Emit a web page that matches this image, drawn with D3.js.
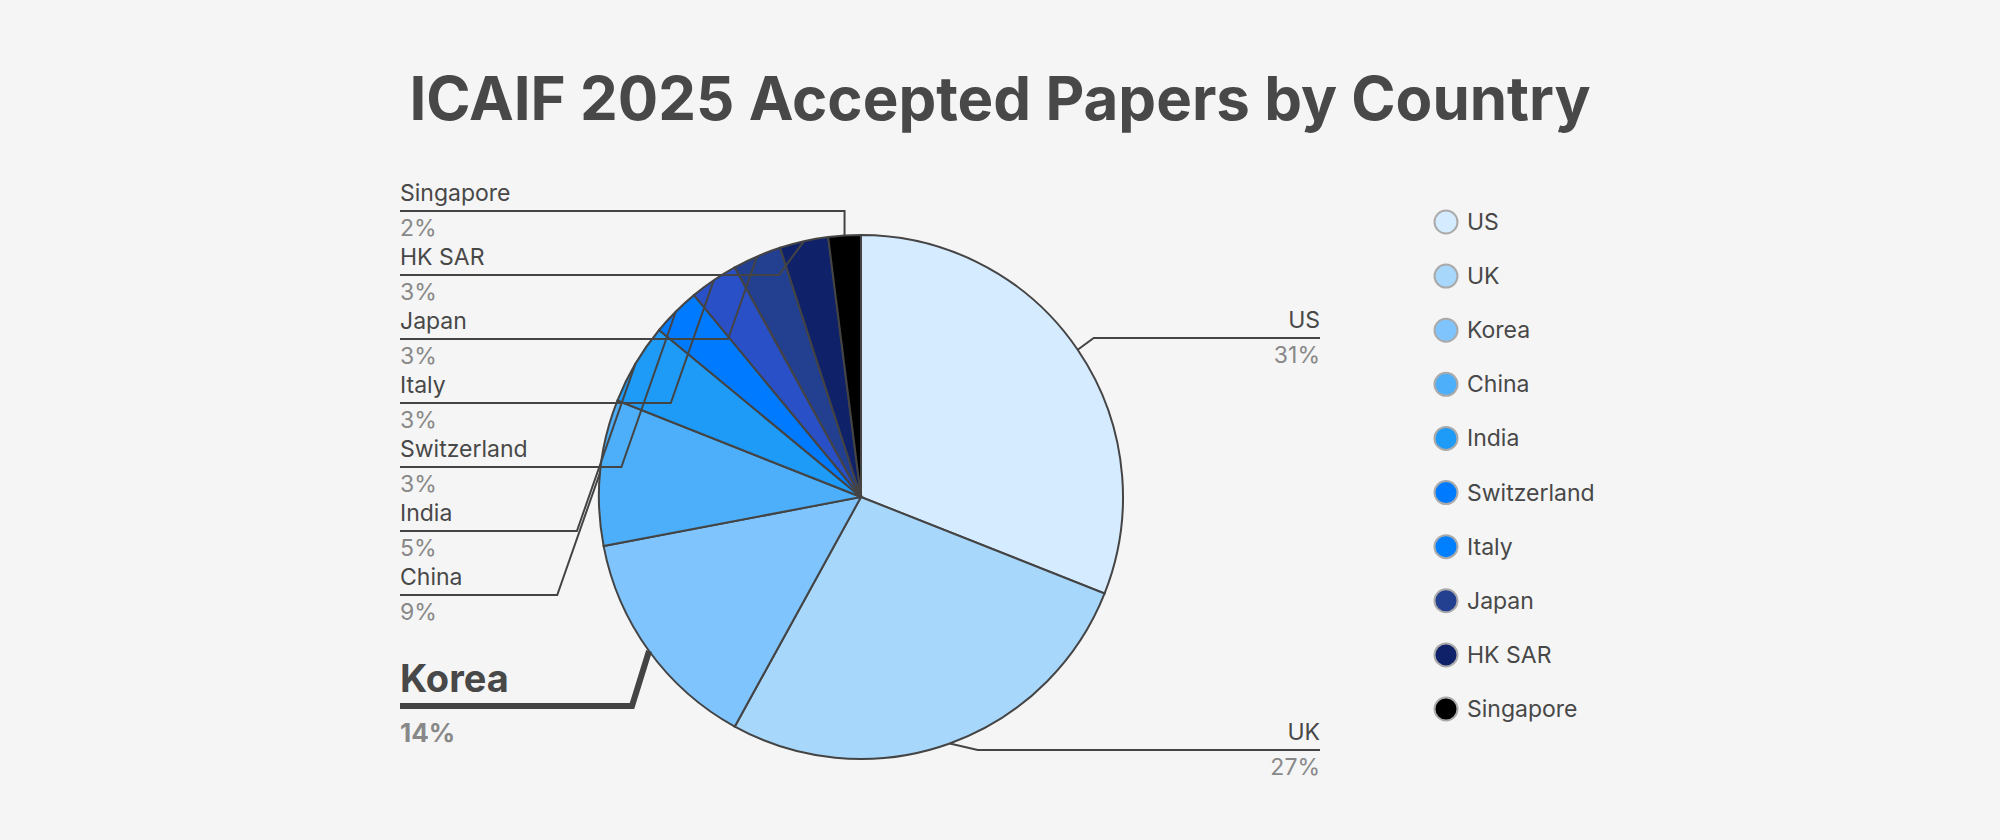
<!DOCTYPE html>
<html><head><meta charset="utf-8">
<script src="https://cdn.jsdelivr.net/npm/d3@7"></script>
<style>body{margin:0;background:#f5f5f5;font-family:Inter,sans-serif}</style>
</head><body><svg id="c" width="2000" height="840"></svg>
<script>
const countries = ["US","UK","Korea","China","India","Switzerland","Italy","Japan","HK SAR","Singapore"];
const shares = [31,27,14,9,5,3,3,3,3,2];
const sliceColors = ["#d5ebff","#a8d7fc","#7fc4fd","#4daffa","#1e9af7","#007bff","#2a50c8","#233f8f","#0f2169","#000000"];
const legendColors = ["#d5ebff","#a8d7fc","#7fc4fd","#4daffa","#1e9af7","#007bff","#0080ff","#233f8f","#0f2169","#000000"];
const highlight = "Korea";

const svg = d3.select("#c");
const ink = "#484848";
svg.append("text").attr("x", 1000).attr("y", 120).attr("text-anchor", "middle")
  .attr("font-size", 60).attr("font-weight", 700).attr("fill", ink)
  .text("ICAIF 2025 Accepted Papers by Country");

const cx = 861, cy = 497, r = 262;
const arcs = d3.pie().sort(null).value(d => d)(shares);
const arc = d3.arc().innerRadius(0).outerRadius(r);
const g = svg.append("g").attr("transform", `translate(${cx},${cy})`);
g.selectAll("path").data(arcs).join("path")
  .attr("d", arc).attr("fill", (d, i) => sliceColors[i])
  .attr("stroke", "#444").attr("stroke-width", 2);

const pt = (a, rr) => [cx + Math.sin(a) * rr, cy - Math.cos(a) * rr];

// left label rows (bottom-to-top): China .. Singapore, Korea separate
const leftNames = ["Singapore","HK SAR","Japan","Italy","Switzerland","India","China"];
const rowY = d3.scaleLinear().domain([0, 1]).range([211, 275]);
const lines = svg.append("g").attr("fill", "none").attr("stroke", "#444");

leftNames.forEach((name, k) => {
  const i = countries.indexOf(name);
  const a = (arcs[i].startAngle + arcs[i].endAngle) / 2;
  const [px, py] = pt(a, r);
  const ly = rowY(k);
  const ex = k === 0 ? px : Math.min(px - 25, px - (ly - py) * 0.35);
  const pts = k === 0 ? [[400, ly], [px, ly], [px, py]] : [[400, ly], [ex, ly], [px, py]];
  lines.append("path").attr("d", d3.line()(pts)).attr("stroke-width", 2);
  svg.append("text").attr("x", 400).attr("y", ly - 10).attr("font-size", 23).attr("fill", ink).text(name);
  svg.append("text").attr("x", 400).attr("y", ly + 25).attr("font-size", 23).attr("fill", "#888").text(shares[i] + "%");
});

// Korea (highlighted)
{
  const i = countries.indexOf(highlight);
  const a = (arcs[i].startAngle + arcs[i].endAngle) / 2;
  const [px, py] = pt(a, r);
  const ly = 706;
  lines.append("path").attr("d", d3.line()([[400, ly], [632, ly], [px, py]])).attr("stroke-width", 6);
  svg.append("text").attr("x", 400).attr("y", ly - 14).attr("font-size", 38).attr("font-weight", 700).attr("fill", ink).text(highlight);
  svg.append("text").attr("x", 400).attr("y", ly + 36).attr("font-size", 26).attr("font-weight", 700).attr("fill", "#888").text(shares[i] + "%");
}

// right labels
[["US", 338], ["UK", 750]].forEach(([name, ly]) => {
  const i = countries.indexOf(name);
  const a = (arcs[i].startAngle + arcs[i].endAngle) / 2;
  const [px, py] = pt(a, r);
  const ex = name === "US" ? px + 16 : px + 28;
  lines.append("path").attr("d", d3.line()([[px, py], [ex, ly], [1320, ly]])).attr("stroke-width", 2);
  svg.append("text").attr("x", 1320).attr("y", ly - 10).attr("text-anchor", "end").attr("font-size", 23).attr("fill", ink).text(name);
  svg.append("text").attr("x", 1320).attr("y", ly + 25).attr("text-anchor", "end").attr("font-size", 23).attr("fill", "#888").text(shares[i] + "%");
});

// legend
const ly = d3.scalePoint().domain(countries).range([222, 709]);
const lg = svg.append("g");
countries.forEach((c, i) => {
  lg.append("circle").attr("cx", 1446).attr("cy", ly(c)).attr("r", 11.5)
    .attr("fill", legendColors[i]).attr("stroke", "#aaa").attr("stroke-width", 2);
  lg.append("text").attr("x", 1467).attr("y", ly(c)).attr("dy", "0.35em")
    .attr("font-size", 23).attr("fill", ink).text(c);
});
</script></body></html>
